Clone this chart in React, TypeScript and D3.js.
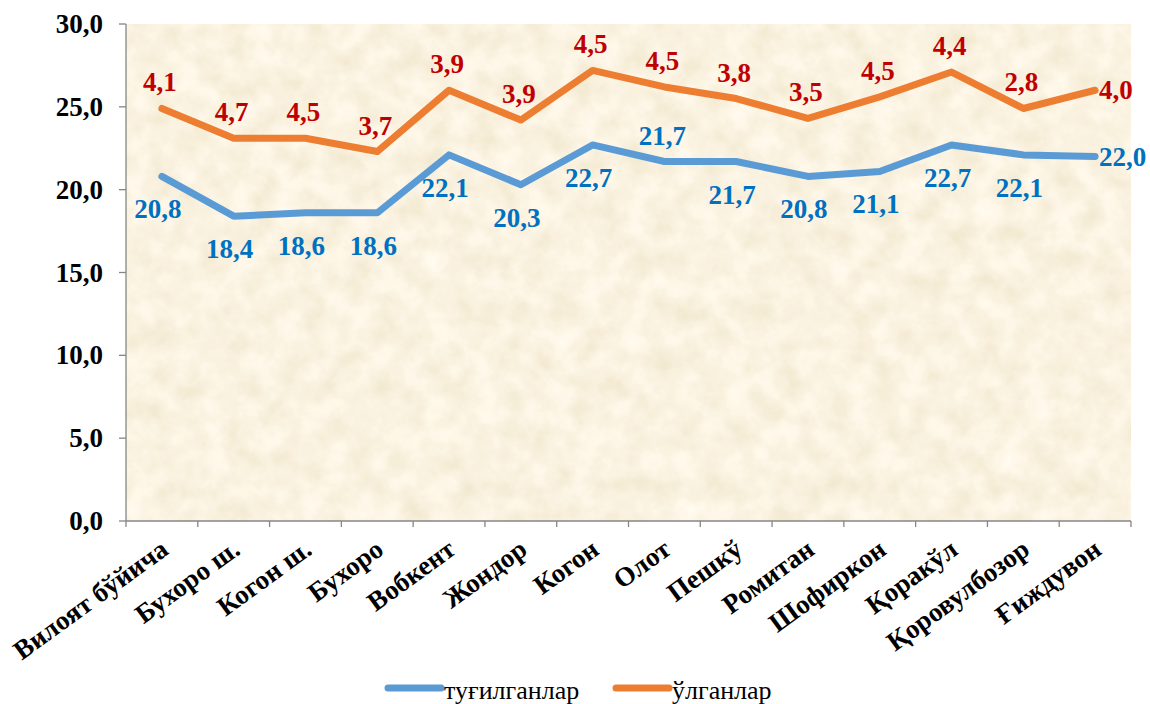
import React from "react";
import * as d3 from "d3";

const categories = [
  "Вилоят бўйича", "Бухоро ш.", "Когон ш.", "Бухоро", "Вобкент", "Жондор", "Когон",
  "Олот", "Пешкў", "Ромитан", "Шофиркон", "Қоракўл", "Қоровулбозор", "Ғиждувон",
];
const births = [20.8, 18.4, 18.6, 18.6, 22.1, 20.3, 22.7, 21.7, 21.7, 20.8, 21.1, 22.7, 22.1, 22.0];
const deaths = [4.1, 4.7, 4.5, 3.7, 3.9, 3.9, 4.5, 4.5, 3.8, 3.5, 4.5, 4.4, 2.8, 4.0];
const yTicks = [0, 5, 10, 15, 20, 25, 30];
const seriesNames = ["туғилганлар", "ўлганлар"];

// label placement (styling): b = below, a = above, r = right
const birthPlacement = ["b","b","b","b","b","b","b","a","b","b","b","b","b","r"];
const deathPlacement = ["a","a","a","a","a","a","a","a","a","a","a","a","a","r"];

const W = 1150, H = 704;
const plot = { left: 126, right: 1131, top: 24, bottom: 521 };
const BLUE = "#5B9BD5", ORANGE = "#ED7D31", BLUE_T = "#0070C0", RED_T = "#C00000", AXIS = "#868686";
const fmt = (v: number) => v.toFixed(1).replace(".", ",");

export default function App() {
  const x = d3.scaleBand<string>().domain(categories).range([plot.left, plot.right]);
  const y = d3.scaleLinear().domain([0, 30]).range([plot.bottom, plot.top]);
  const cx = (i: number) => (x(categories[i]) as number) + x.bandwidth() / 2;
  const stacked = births.map((b, i) => b + deaths[i]);
  const line = d3.line<number>().x((_, i) => cx(i)).y((v) => y(v));

  const labelPos = (i: number, v: number, p: string) => {
    const px = cx(i), py = y(v);
    if (p === "r") return { x: px + 4, y: py + 9, anchor: "start" };
    if (p === "a") return { x: px - 2, y: py - 17, anchor: "middle" };
    return { x: px - 4, y: py + 42, anchor: "middle" };
  };

  return (
    <svg width={W} height={H} style={{ position: "absolute", left: 0, top: 0, background: "#fff" }}
      fontFamily="'Liberation Serif', 'Times New Roman', serif">
      <defs>
        <filter id="parch" x="0" y="0" width="100%" height="100%">
          <feTurbulence type="fractalNoise" baseFrequency="0.04" numOctaves="4" seed="7" result="n" />
          <feColorMatrix in="n" type="matrix"
            values="0.18 0 0 0 0.87  0.2 0 0 0 0.79  0.3 0 0 0 0.60  0 0 0 0 1" />
        </filter>
      </defs>
      <rect x={plot.left} y={plot.top} width={plot.right - plot.left} height={plot.bottom - plot.top}
        fill="#F2DFB8" filter="url(#parch)" />

      {/* y axis */}
      <line x1={plot.left} x2={plot.left} y1={plot.top} y2={plot.bottom} stroke={AXIS} strokeWidth={1.3} />
      {yTicks.map((t) => (
        <g key={t}>
          <line x1={plot.left - 7} x2={plot.left} y1={y(t)} y2={y(t)} stroke={AXIS} strokeWidth={1.3} />
          <text x={103} y={y(t) + 9} textAnchor="end" fontSize={27} fontWeight="bold" fill="#000">{fmt(t)}</text>
        </g>
      ))}
      {/* x axis */}
      <line x1={plot.left} x2={plot.right} y1={plot.bottom} y2={plot.bottom} stroke={AXIS} strokeWidth={1.3} />
      {categories.map((c) => (
        <line key={c} x1={(x(c) as number)} x2={(x(c) as number)} y1={plot.bottom} y2={plot.bottom + 6} stroke={AXIS} strokeWidth={1.3} />
      ))}
      <line x1={plot.right} x2={plot.right} y1={plot.bottom} y2={plot.bottom + 6} stroke={AXIS} strokeWidth={1.3} />
      {categories.map((c, i) => (
        <text key={c} transform={`translate(${cx(i) + 8},${plot.bottom + 32}) rotate(-36)`}
          textAnchor="end" fontSize={27} fontWeight="bold" fill="#000">{c}</text>
      ))}

      {/* lines */}
      <path d={line(births) as string} fill="none" stroke={BLUE} strokeWidth={7} strokeLinejoin="round" strokeLinecap="round" />
      <path d={line(stacked) as string} fill="none" stroke={ORANGE} strokeWidth={7} strokeLinejoin="round" strokeLinecap="round" />

      {/* labels */}
      {births.map((v, i) => {
        const p = labelPos(i, v, birthPlacement[i]);
        return <text key={"b" + i} x={p.x} y={p.y} textAnchor={p.anchor as any} fontSize={27} fontWeight="bold" fill={BLUE_T}>{fmt(v)}</text>;
      })}
      {deaths.map((v, i) => {
        const p = labelPos(i, stacked[i], deathPlacement[i]);
        return <text key={"d" + i} x={p.x} y={p.y} textAnchor={p.anchor as any} fontSize={27} fontWeight="bold" fill={RED_T}>{fmt(v)}</text>;
      })}

      {/* legend */}
      <line x1={388} x2={441} y1={688} y2={688} stroke={BLUE} strokeWidth={7} strokeLinecap="round" />
      <text x={444} y={699} fontSize={26} fill="#000">{seriesNames[0]}</text>
      <line x1={616} x2={669} y1={688} y2={688} stroke={ORANGE} strokeWidth={7} strokeLinecap="round" />
      <text x={672} y={699} fontSize={26} fill="#000">{seriesNames[1]}</text>
    </svg>
  );
}
